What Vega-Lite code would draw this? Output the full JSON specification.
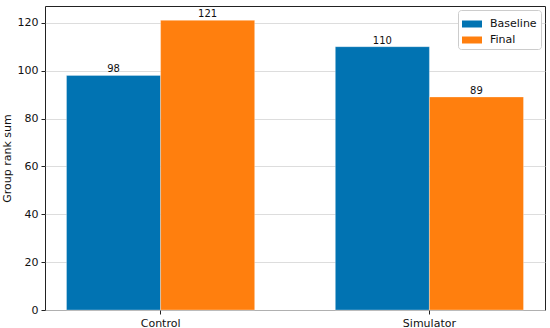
{
  "$schema": "https://vega.github.io/schema/vega-lite/v6.json",
  "autosize": "none",
  "width": 500,
  "height": 304,
  "padding": {"left": 45, "top": 6, "right": 5, "bottom": 18},
  "background": "white",
  "config": {
    "font": "DejaVu Sans",
    "view": {"stroke": "#222", "strokeWidth": 1}
  },
  "data": {
    "values": [
      {"group": "Control", "series": "Baseline", "value": 98},
      {"group": "Control", "series": "Final", "value": 121},
      {"group": "Simulator", "series": "Baseline", "value": 110},
      {"group": "Simulator", "series": "Final", "value": 89}
    ]
  },
  "encoding": {
    "x": {
      "field": "group", "type": "nominal",
      "scale": {"paddingInner": 0.3, "paddingOuter": 0.08},
      "axis": {"title": null, "labelAngle": 0, "labelFontSize": 11, "labelColor": "#111", "tickColor": "#222", "tickSize": 4, "domain": false, "grid": false, "labelPadding": 3}
    },
    "xOffset": {"field": "series", "type": "nominal", "scale": {"paddingInner": 0, "paddingOuter": 0}},
    "y": {
      "field": "value", "type": "quantitative",
      "scale": {"domain": [0, 127], "nice": false},
      "axis": {"title": "Group rank sum", "titleFontSize": 11, "titleFontWeight": "normal", "titleColor": "#111", "titlePadding": 5, "values": [0, 20, 40, 60, 80, 100, 120], "labelFontSize": 11, "labelColor": "#111", "tickColor": "#222", "tickSize": 4, "domain": false, "grid": true, "gridColor": "#d4d4d4", "gridWidth": 0.8, "labelPadding": 3}
    }
  },
  "layer": [
    {
      "mark": {"type": "bar", "stroke": "white", "strokeWidth": 0.5, "strokeOpacity": 0.6},
      "encoding": {
        "color": {
          "field": "series", "type": "nominal",
          "scale": {"domain": ["Baseline", "Final"], "range": ["#0173B2", "#FF7F0E"]},
          "legend": {
            "title": null, "orient": "top-right", "offset": 4,
            "strokeColor": "#cccccc", "fillColor": "white", "padding": 4, "cornerRadius": 3,
            "labelFontSize": 11, "labelColor": "#111",
            "symbolType": "M-1,-0.35h2v0.7h-2z", "symbolSize": 400, "symbolStrokeWidth": 0, "symbolOpacity": 1,
            "rowPadding": 1, "labelOffset": 8
          }
        }
      }
    },
    {
      "mark": {"type": "text", "baseline": "bottom", "dy": -1, "fontSize": 10, "color": "#111"},
      "encoding": {"text": {"field": "value", "type": "quantitative"}}
    }
  ]
}
